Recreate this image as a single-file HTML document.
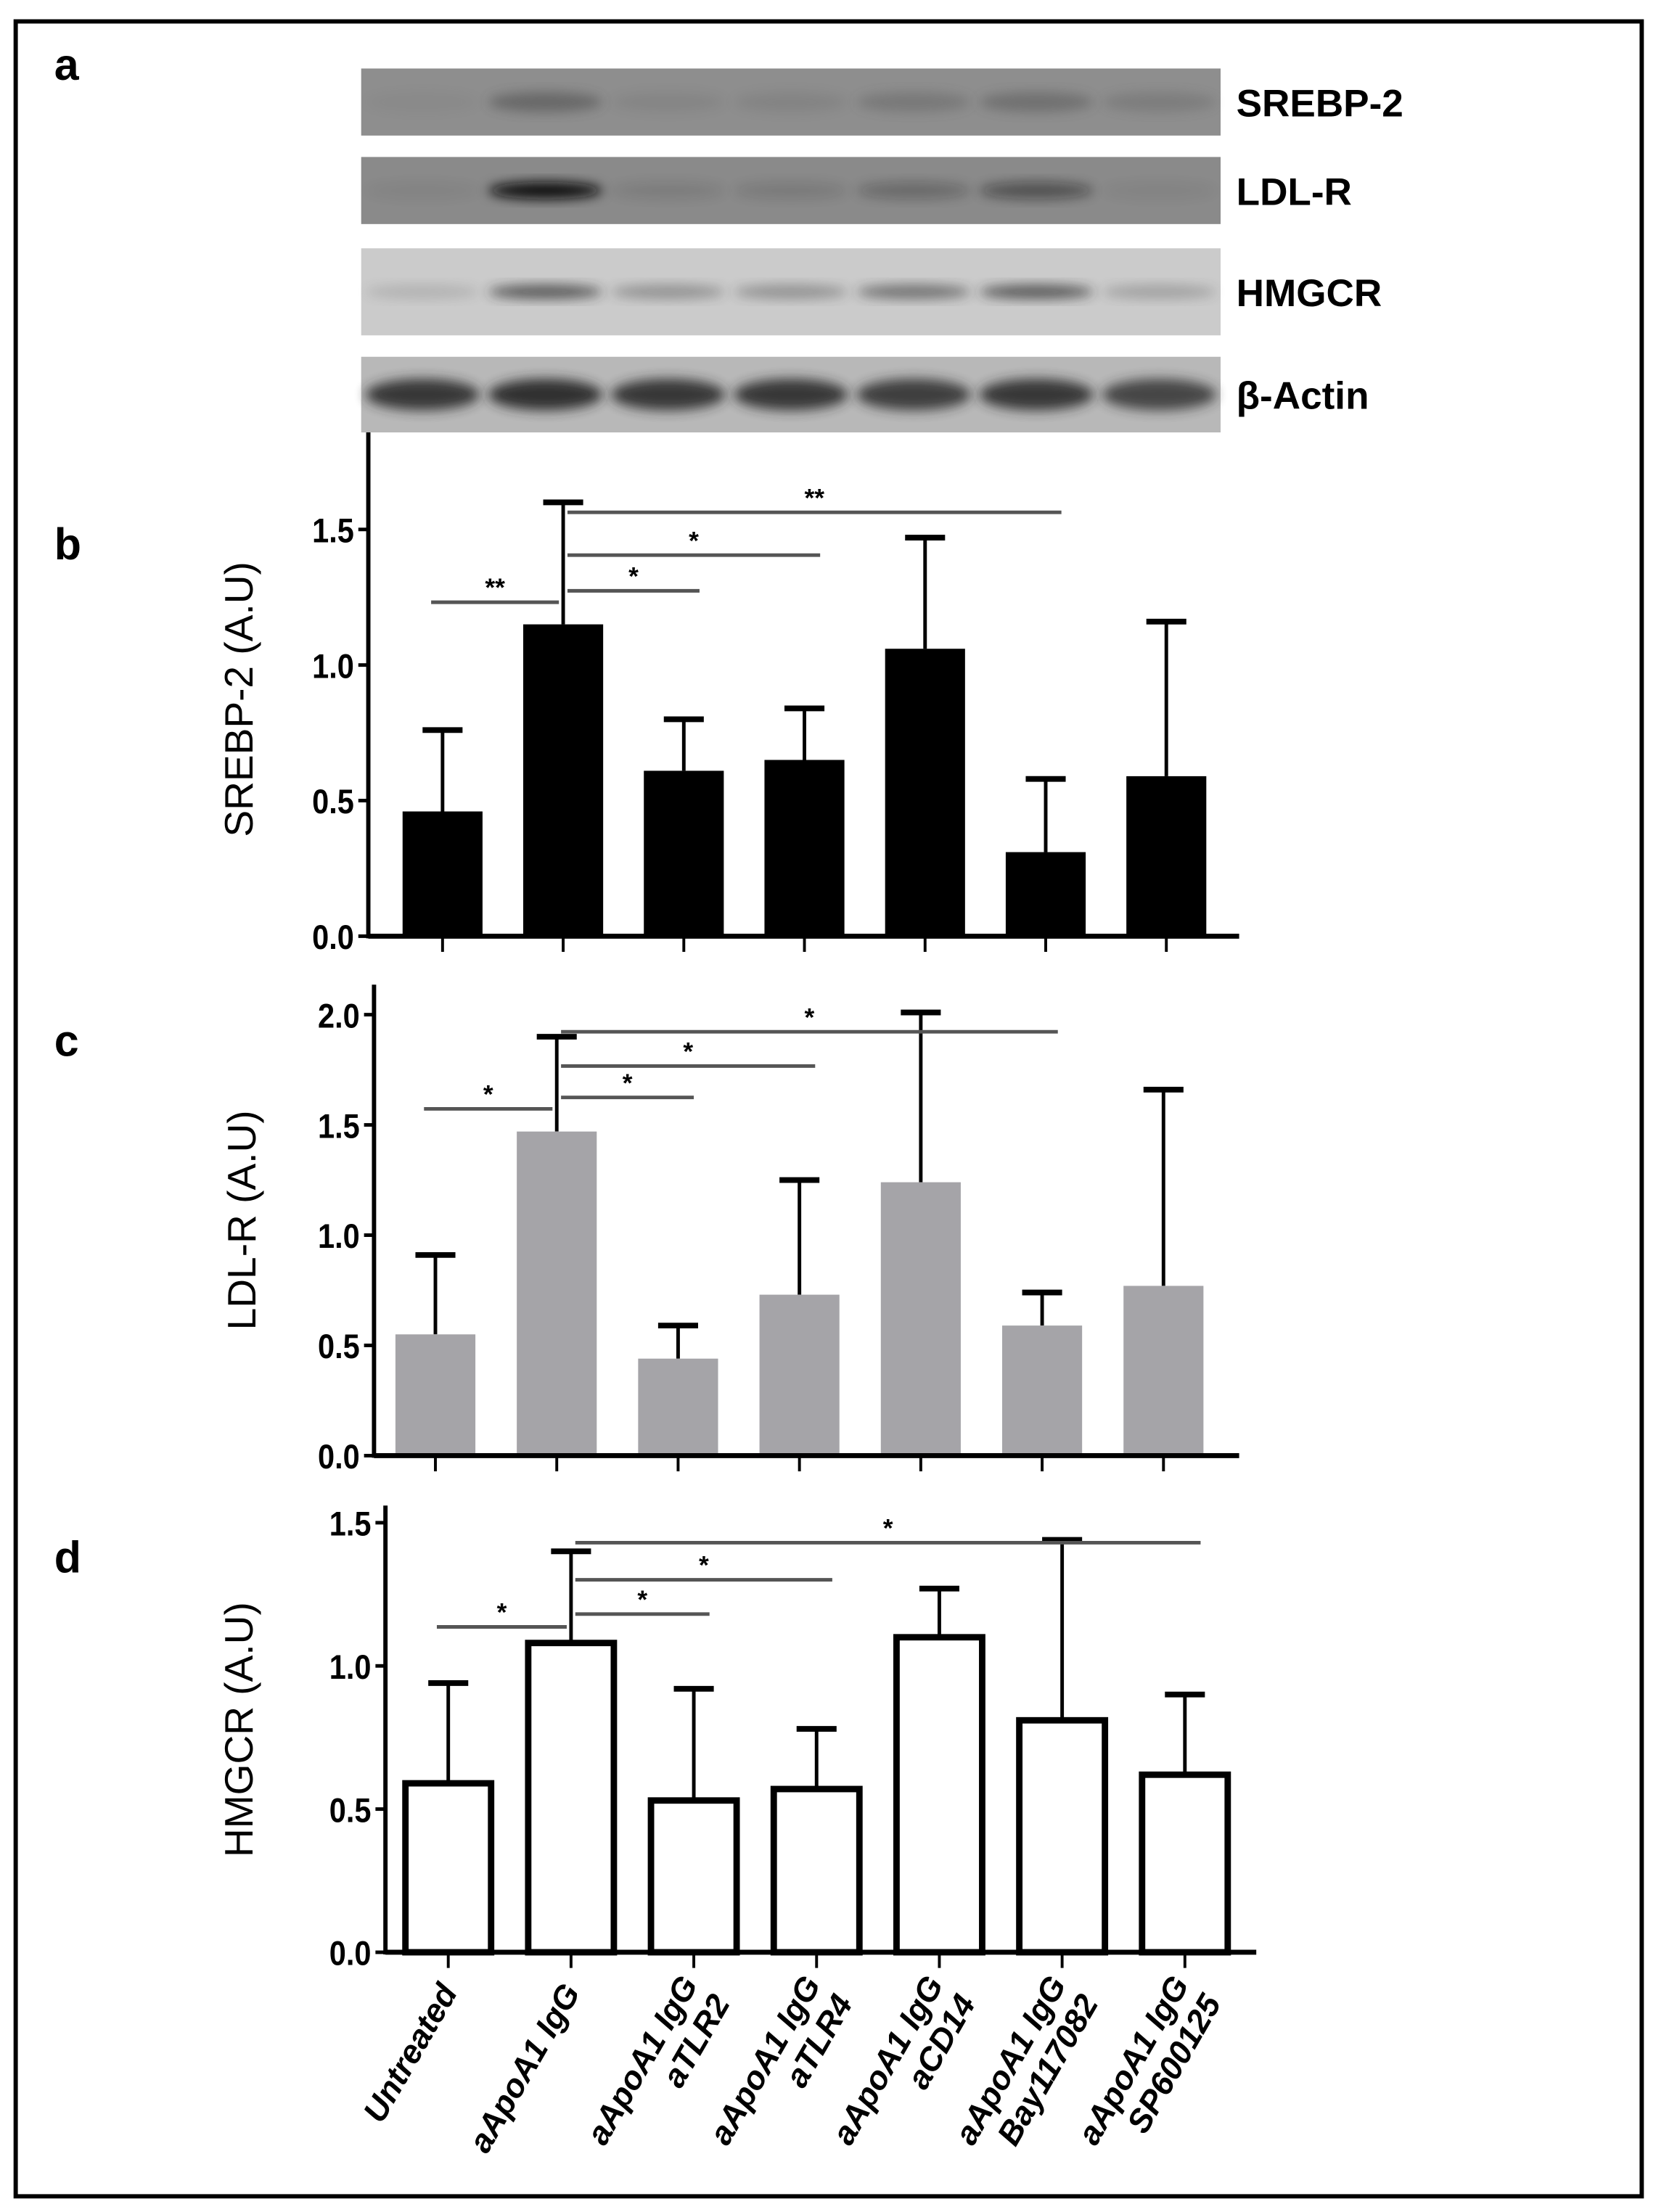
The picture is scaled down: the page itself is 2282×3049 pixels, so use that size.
<!DOCTYPE html>
<html><head><meta charset="utf-8"><style>
html,body{margin:0;padding:0;background:#fff;}
svg{display:block;}
text{font-family:"Liberation Sans",Arial,sans-serif;}
</style></head><body>
<svg id="fig" width="2282" height="3049" viewBox="0 0 1160 1550" preserveAspectRatio="none" xmlns="http://www.w3.org/2000/svg">
<defs>
<filter id="blur" x="-20%" y="-50%" width="140%" height="200%"><feGaussianBlur stdDeviation="4"/></filter>
</defs>
<rect x="11" y="15" width="1139" height="1524" fill="#fff" stroke="#000" stroke-width="3"/>
<text x="38" y="56" font-size="31" font-weight="bold">a</text>
<g id="blots"></g>
<g id="charts"></g>
</svg>
<script>
// ---- Data ----
const categories = ["Untreated","aApoA1 IgG","aApoA1 IgG|aTLR2","aApoA1 IgG|aTLR4","aApoA1 IgG|aCD14","aApoA1 IgG|Bay117082","aApoA1 IgG|SP600125"];
const srebpMeans = [0.46,1.15,0.61,0.65,1.06,0.31,0.59];
const srebpErr   = [0.76,1.60,0.80,0.84,1.47,0.58,1.16];
const ldlrMeans  = [0.55,1.47,0.44,0.73,1.24,0.59,0.77];
const ldlrErr    = [0.91,1.90,0.59,1.25,2.01,0.74,1.66];
const hmgcrMeans = [0.59,1.08,0.53,0.57,1.10,0.81,0.62];
const hmgcrErr   = [0.94,1.40,0.92,0.78,1.27,1.44,0.90];
const srebpTicks = [0.0,0.5,1.0,1.5];
const ldlrTicks  = [0.0,0.5,1.0,1.5,2.0];
const hmgcrTicks = [0.0,0.5,1.0,1.5];
// significance brackets: [fromIndex, toIndex, label]
const srebpSig = [[0,1,"**"],[1,2,"*"],[1,3,"*"],[1,5,"**"]];
const ldlrSig  = [[0,1,"*"],[1,2,"*"],[1,3,"*"],[1,5,"*"]];
const hmgcrSig = [[0,1,"*"],[1,2,"*"],[1,3,"*"],[1,6,"*"]];

const NS="http://www.w3.org/2000/svg";
function mk(tag,attrs,parent){const e=document.createElementNS(NS,tag);for(const k in attrs)e.setAttribute(k,attrs[k]);if(parent)parent.appendChild(e);return e;}

// ---- Blots ----
const blots=document.getElementById('blots');
const blotDefs=[
 {name:"SREBP-2",y:48,h:47,bg:"#8e8e8e",bands:[0.05,0.45,0.1,0.12,0.25,0.35,0.2],dark:"#3a3a3a",bh:14},
 {name:"LDL-R",y:110,h:47,bg:"#8a8a8a",bands:[0.05,1,0.1,0.12,0.25,0.45,0.05],dark:"#111",bh:12},
 {name:"HMGCR",y:174,h:61,bg:"#cbcbcb",bands:[0.15,0.7,0.35,0.35,0.55,0.7,0.25],dark:"#2a2a2a",bh:10},
 {name:"β-Actin",y:250,h:53,bg:"#b8b8b8",bands:[0.9,0.95,0.9,0.9,0.85,0.9,0.8],dark:"#2a2a2a",bh:22}
];
blotDefs.forEach(b=>{
  const g=mk('g',{},blots);
  
  
  mk('rect',{x:253,y:b.y,width:602,height:b.h,fill:b.bg},g);
  b.bands.forEach((v,i)=>{
    const cx=253+43+i*86;
    mk('ellipse',{cx:cx,cy:b.y+b.h/2,rx:40,ry:b.bh/2,fill:b.dark,opacity:v,filter:'url(#blur)'},g);
  });
  const t=mk('text',{x:866,y:b.y+b.h/2+10,'font-size':27,'font-weight':'bold'},g);
  t.textContent=b.name;
  
  
});

// ---- Charts ----
const charts=document.getElementById('charts');
function drawChart(o){
  const g=mk('g',{},charts);
  
  
  const yv=v=>o.base-v*(o.base-o.top)/o.tickVals[o.tickVals.length-1];
  const x=i=>o.x0+i*o.step;
  const pl=mk('text',{x:38,y:o.letterY,'font-size':31,'font-weight':'bold'},g);pl.textContent=o.letter;
  
  
  const yt=mk('text',{x:0,y:0,'font-size':28,'text-anchor':'middle',transform:`translate(${o.titleX},${o.titleY}) rotate(-90)`},g);
  yt.textContent=o.title;
  
  
  o.means.forEach((m,i)=>{
    const cx=x(i);
    const er=mk('line',{x1:cx,x2:cx,y1:yv(m),y2:yv(o.err[i]),stroke:'#000','stroke-width':2.5},g);
    
    
    const cap=mk('line',{x1:cx-14,x2:cx+14,y1:yv(o.err[i]),y2:yv(o.err[i]),stroke:'#000','stroke-width':4},g);
    
    
    let r;
    if(o.style==='outline'){
      r=mk('rect',{x:cx-o.bw/2,y:yv(m),width:o.bw,height:o.base-yv(m),fill:'#fff',stroke:'#000','stroke-width':4.5},g);
    } else {
      r=mk('rect',{x:cx-o.bw/2,y:yv(m),width:o.bw,height:o.base-yv(m),fill:o.fill},g);
    }
    
    
    mk('line',{x1:cx,x2:cx,y1:o.base,y2:o.base+11,stroke:'#000','stroke-width':2},g);
  });
  const ya=mk('line',{x1:o.ax,x2:o.ax,y1:o.axTop,y2:o.base+1.5,stroke:'#000','stroke-width':3},g);
  
  
  const xa=mk('line',{x1:o.ax,x2:o.axEnd,y1:o.base,y2:o.base,stroke:'#000','stroke-width':3.5},g);
  
  
  o.tickVals.forEach(v=>{
    mk('line',{x1:o.ax-7,x2:o.ax,y1:yv(v),y2:yv(v),stroke:'#000','stroke-width':2.5},g);
    const t=mk('text',{x:o.ax-10,y:yv(v)+9,'font-size':24,'font-weight':'bold','text-anchor':'end',transform:`translate(${(o.ax-10)*0.12},0) scale(0.88,1)`},g);
    t.textContent=v.toFixed(1);
    
    
  });
  o.sig.forEach((s,k)=>{
    const ly=o.sigY[k];
    const x1=s[0]===0?x(0)-8:x(1)+3, x2=s[0]===0?x(1)-3:x(s[1])+11;
    const l=mk('line',{x1:x1,x2:x2,y1:ly,y2:ly,stroke:'#555','stroke-width':2.5},g);
    
    
    const st=mk('text',{x:(x1+x2)/2,y:ly-4,'font-size':18,'font-weight':'bold','text-anchor':'middle'},g);
    st.textContent=s[2];
    
    
  });
  return x;
}
drawChart({name:'srebp2-chart',letter:'b',letterY:392,title:'SREBP-2 (A.U)',titleX:177,titleY:490,
  means:srebpMeans,err:srebpErr,tickVals:srebpTicks,sig:srebpSig,sigY:[422,414,389,359],
  base:656,top:371,ax:258,axTop:303,axEnd:868,x0:310,step:84.5,bw:56,style:'fill',fill:'#000'});
drawChart({name:'ldlr-chart',letter:'c',letterY:740,title:'LDL-R (A.U)',titleX:179,titleY:855,
  means:ldlrMeans,err:ldlrErr,tickVals:ldlrTicks,sig:ldlrSig,sigY:[777,769,747,723],
  base:1020,top:711,ax:262,axTop:690,axEnd:868,x0:305,step:85,bw:56,style:'fill',fill:'#a5a4a8'});
const xd=drawChart({name:'hmgcr-chart',letter:'d',letterY:1102,title:'HMGCR (A.U)',titleX:177,titleY:1212,
  means:hmgcrMeans,err:hmgcrErr,tickVals:hmgcrTicks,sig:hmgcrSig,sigY:[1140,1131,1107,1081],
  base:1368,top:1067,ax:270,axTop:1055,axEnd:880,x0:314,step:86,bw:60,style:'outline'});

const lg=mk('g',{},charts);


categories.forEach((c,i)=>{
  const parts=c.split('|');
  const cx=xd(i)+ (parts.length>1?6:0), cy=1392;
  const t=mk('text',{x:0,y:0,'font-size':23,'font-weight':'bold','font-style':'italic','text-anchor':'end',transform:`translate(${cx},${cy}) rotate(-60)`},lg);
  
  
  parts.forEach((p,j)=>{
    const ts=mk('tspan',{x:0,dy: j===0 ? (parts.length>1?-3:8) : 26},t);
    ts.textContent=p;
  });
});
</script>
</body></html>
